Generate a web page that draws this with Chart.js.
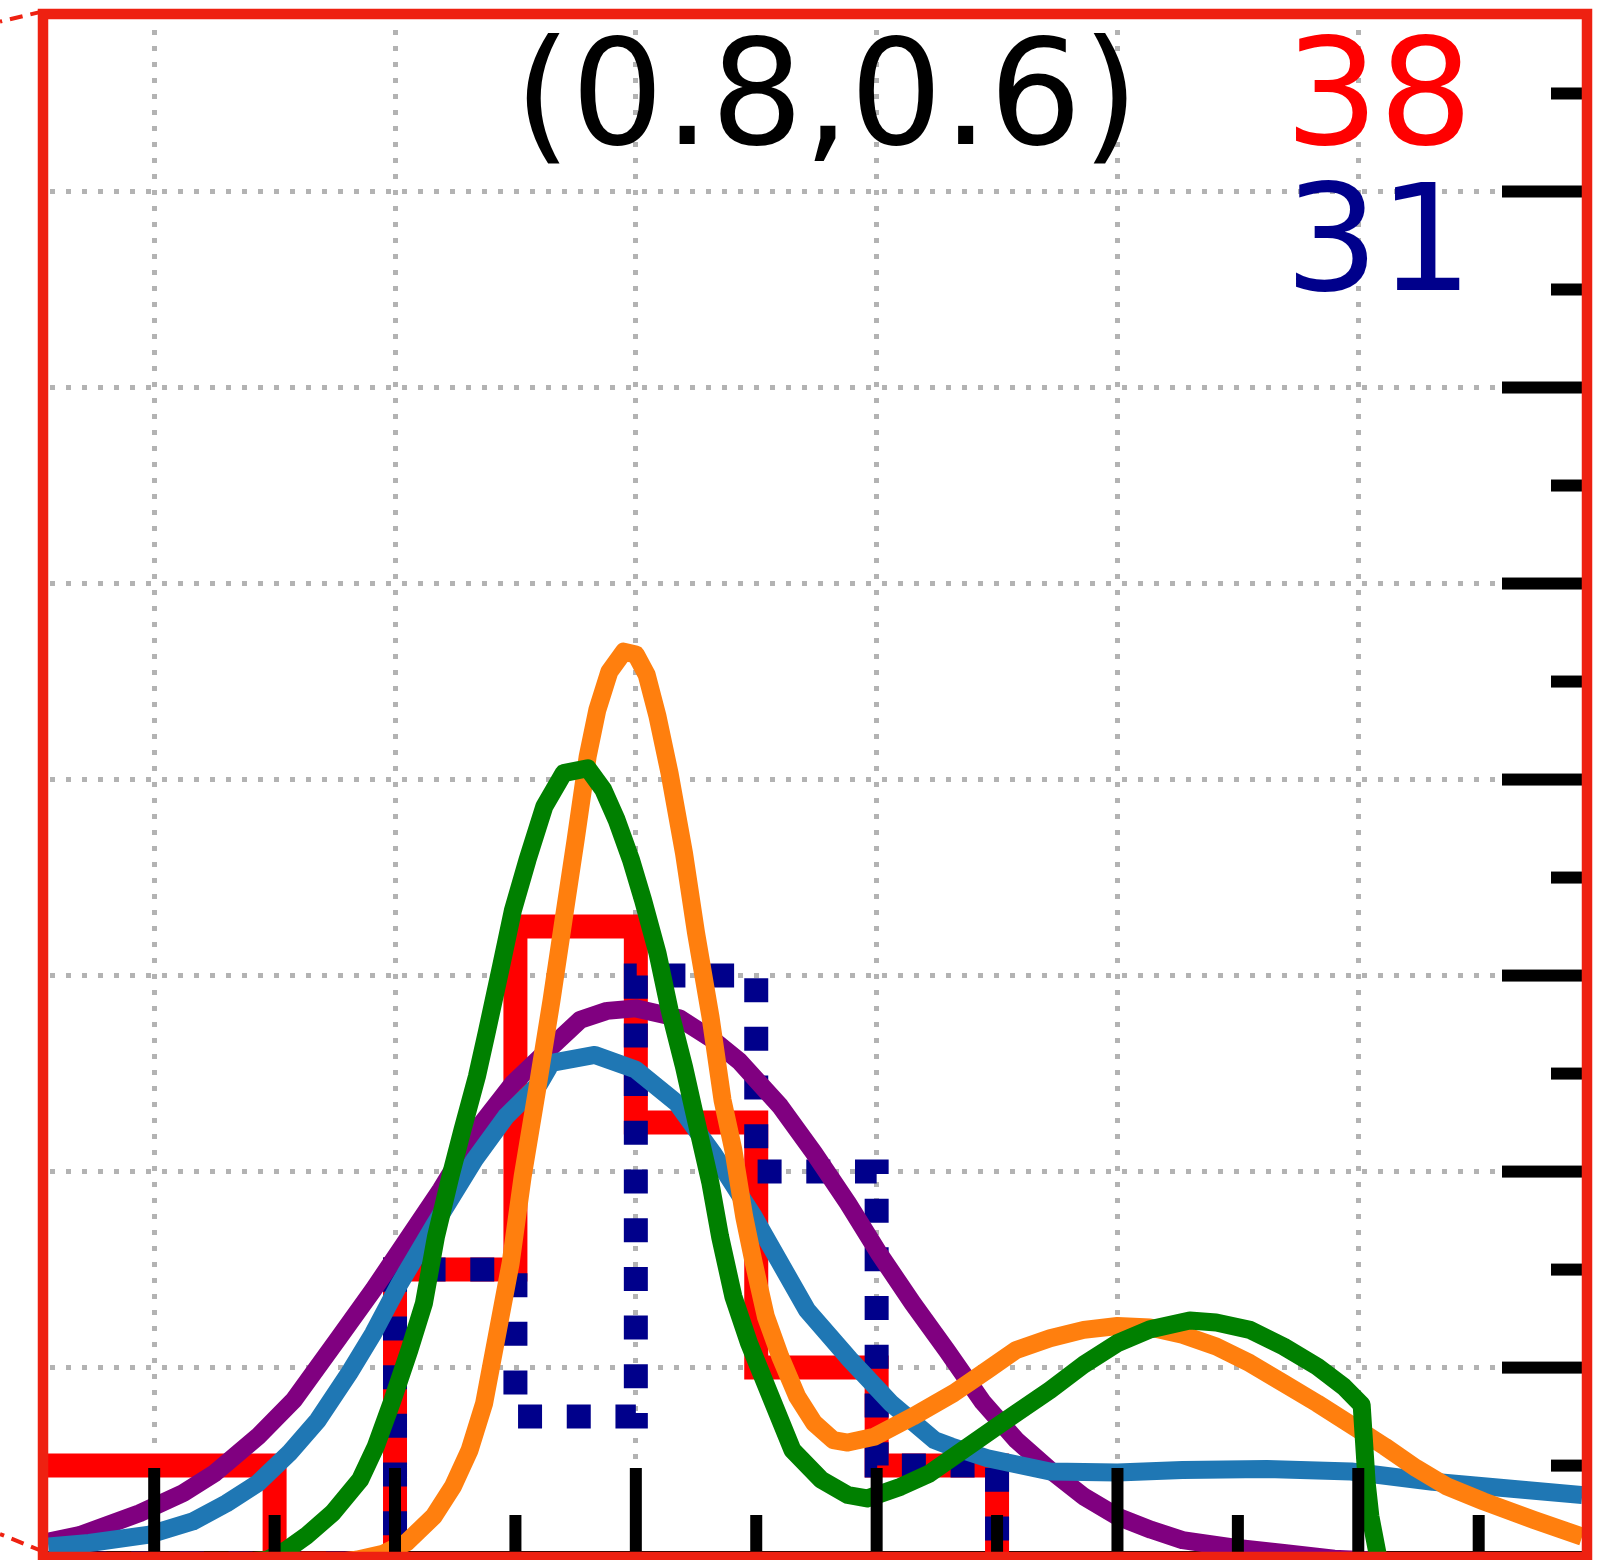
<!DOCTYPE html>
<html>
<head>
<meta charset="utf-8">
<script src="https://cdn.jsdelivr.net/npm/chart.js@4/dist/chart.umd.min.js"></script>
<style>
  html, body { margin: 0; padding: 0; background: #ffffff; overflow: hidden; }
  canvas { display: block; }
</style>
</head>
<body>
<canvas id="chart" width="1614" height="1560"></canvas>
<script>
// Histogram bins (shared edges) and counts per bin
const binEdges   = [-0.5, 0, 0.5, 1, 1.5, 2, 2.5, 3, 3.5];
const redCounts  = [2, 2, 0, 6, 13, 9, 4, 2];
const blueCounts = [0, 0, 0, 6, 3, 12, 8, 2];

// Panel heading
const panelTitle = '(0.8,0.6)';

// Axis ranges and tick positions
const xRange = [-0.441, 5.929];
const yRange = [0.237, 31.52];
const xMajorTicks = [0, 1, 2, 3, 4, 5];
const xMinorTicks = [0.5, 1.5, 2.5, 3.5, 4.5, 5.5];
const yMajorTicks = [4, 8, 12, 16, 20, 24, 28];
const yMinorTicks = [2, 6, 10, 14, 18, 22, 26, 30];

// Density curves, [x, y] pairs
const purpleCurve = [
  [-0.44, 0.45], [-0.31, 0.58], [-0.06, 1.03], [0.12, 1.44], [0.25, 1.84], [0.43, 2.59],
  [0.58, 3.34], [0.77, 4.63], [0.91, 5.59], [1.05, 6.61], [1.19, 7.63], [1.35, 8.92],
  [1.49, 9.80], [1.65, 10.55], [1.77, 11.1], [1.88, 11.28], [2.0, 11.33], [2.18, 11.13],
  [2.32, 10.69], [2.43, 10.25], [2.6, 9.33], [2.74, 8.38], [2.88, 7.36], [3.01, 6.33],
  [3.15, 5.31], [3.29, 4.36], [3.44, 3.3], [3.58, 2.52], [3.72, 1.91], [3.86, 1.37],
  [4.0, 0.96], [4.14, 0.69], [4.27, 0.48], [4.48, 0.33], [4.69, 0.22], [4.9, 0.1],
  [5.2, 0.03], [5.93, 0.0]
];
const blueCurve = [
  [-0.44, 0.35], [-0.27, 0.42], [-0.02, 0.59], [0.16, 0.86], [0.30, 1.23], [0.43, 1.64],
  [0.56, 2.25], [0.68, 2.93], [0.81, 3.89], [0.91, 4.70], [1.02, 5.72], [1.16, 6.88],
  [1.33, 8.24], [1.46, 9.12], [1.60, 9.80], [1.65, 10.22], [1.83, 10.38], [2.0, 10.08],
  [2.17, 9.40], [2.32, 8.38], [2.49, 7.08], [2.71, 5.18], [2.89, 4.16], [3.06, 3.27],
  [3.24, 2.52], [3.31, 2.39], [3.46, 2.15], [3.72, 1.88], [4.0, 1.86], [4.27, 1.91],
  [4.62, 1.93], [4.97, 1.88], [5.31, 1.67], [5.52, 1.58], [5.93, 1.40]
];
const orangeCurve = [
  [-0.44, 0.0], [0.5, 0.0], [0.7, 0.0], [0.84, 0.08], [0.95, 0.2], [1.05, 0.44],
  [1.16, 0.96], [1.24, 1.57], [1.31, 2.32], [1.37, 3.27], [1.42, 4.57], [1.48, 6.13],
  [1.53, 7.90], [1.59, 9.67], [1.65, 11.5], [1.70, 13.14], [1.75, 14.77], [1.80, 16.47],
  [1.84, 17.42], [1.89, 18.2], [1.95, 18.61], [2.0, 18.55], [2.045, 18.14], [2.09, 17.29],
  [2.14, 16.13], [2.20, 14.5], [2.25, 12.87], [2.31, 11.16], [2.36, 9.46], [2.405, 8.44],
  [2.45, 7.08], [2.49, 6.13], [2.54, 5.04], [2.60, 4.22], [2.67, 3.41], [2.74, 2.87],
  [2.82, 2.52], [2.88, 2.47], [2.99, 2.59], [3.15, 3.0], [3.32, 3.48], [3.46, 3.95],
  [3.58, 4.36], [3.72, 4.6], [3.86, 4.77], [4.0, 4.85], [4.135, 4.82], [4.27, 4.67],
  [4.41, 4.43], [4.55, 4.09], [4.69, 3.68], [4.83, 3.27], [4.97, 2.83], [5.11, 2.39],
  [5.24, 1.95], [5.37, 1.57], [5.52, 1.27], [5.73, 0.89], [5.93, 0.55]
];
const greenCurve = [
  [-0.44, 0.0], [0.3, 0.0], [0.47, 0.08], [0.55, 0.28], [0.63, 0.56], [0.74, 1.03], [0.855, 1.71],
  [0.92, 2.39], [0.99, 3.34], [1.06, 4.36], [1.12, 5.31], [1.17, 6.67], [1.23, 7.9],
  [1.28, 8.85], [1.34, 9.94], [1.38, 10.82], [1.44, 12.18], [1.49, 13.34], [1.55, 14.36],
  [1.62, 15.45], [1.70, 16.13], [1.80, 16.23], [1.865, 15.79], [1.92, 15.18], [1.98, 14.36],
  [2.03, 13.54], [2.09, 12.46], [2.14, 11.3], [2.20, 10.14], [2.24, 9.26], [2.31, 7.76],
  [2.35, 6.67], [2.405, 5.45], [2.47, 4.5], [2.56, 3.41], [2.65, 2.32], [2.77, 1.71],
  [2.88, 1.4], [2.96, 1.33], [3.10, 1.57], [3.22, 1.84], [3.36, 2.32], [3.50, 2.8],
  [3.58, 3.07], [3.72, 3.54], [3.86, 4.06], [4.0, 4.5], [4.135, 4.78], [4.30, 4.96],
  [4.41, 4.92], [4.55, 4.77], [4.69, 4.43], [4.83, 4.02], [4.94, 3.61], [5.014, 3.24],
  [5.035, 1.64], [5.05, 0.97], [5.08, 0.2], [5.1, 0.0], [5.93, 0.0]
];

// Outline of a step histogram: up the first edge, across each bin, down the last edge
function stepOutline(edges, counts) {
  const pts = [{ x: edges[0], y: 0 }];
  counts.forEach((c, i) => {
    pts.push({ x: edges[i], y: c });
    pts.push({ x: edges[i + 1], y: c });
  });
  pts.push({ x: edges[edges.length - 1], y: 0 });
  return pts;
}
const toPoints = arr => arr.map(([x, y]) => ({ x, y }));
const sum = arr => arr.reduce((a, b) => a + b, 0);

const FRAME_RED = '#ee2111';
const FONT = '"DejaVu Sans", "Liberation Sans", sans-serif';

// Inward tick marks, connector lines, outer frame and annotations
const decorPlugin = {
  id: 'decor',
  afterDatasetsDraw(chart) {
    const { ctx, chartArea: a, scales: { x, y } } = chart;
    ctx.save();

    ctx.fillStyle = '#000000';
    xMajorTicks.forEach(v => {
      const px = x.getPixelForValue(v);
      ctx.fillRect(px - 6, a.bottom - 84, 12, 84);
    });
    xMinorTicks.forEach(v => {
      const px = x.getPixelForValue(v);
      ctx.fillRect(px - 6, a.bottom - 37, 12, 37);
    });
    yMajorTicks.forEach(v => {
      const py = y.getPixelForValue(v);
      ctx.fillRect(a.right - 80, py - 6, 80, 12);
    });
    yMinorTicks.forEach(v => {
      const py = y.getPixelForValue(v);
      ctx.fillRect(a.right - 31, py - 6, 31, 12);
    });

    // dashed connectors leaving the frame to the left
    ctx.strokeStyle = FRAME_RED;
    ctx.lineWidth = 4;
    ctx.setLineDash([13, 8]);
    ctx.beginPath();
    ctx.moveTo(a.left - 5, a.top - 7.6);
    ctx.lineTo(0, a.top + 2.6);
    ctx.moveTo(a.left - 5, a.bottom - 0.5);
    ctx.lineTo(0, a.bottom - 18);
    ctx.stroke();
    ctx.setLineDash([]);

    // frame around the panel
    ctx.lineWidth = 10.5;
    ctx.lineJoin = 'miter';
    ctx.strokeRect(a.left - 5, a.top - 5, (a.right - a.left) + 10, (a.bottom - a.top) + 10);

    // annotations
    ctx.textBaseline = 'alphabetic';
    ctx.fillStyle = '#000000';
    ctx.textAlign = 'center';
    ctx.font = '146px ' + FONT;
    ctx.fillText(panelTitle, a.left + 0.5075 * (a.right - a.left), a.top + 125);
    ctx.font = '148px ' + FONT;
    ctx.textAlign = 'right';
    ctx.fillStyle = '#ff0000';
    ctx.fillText(String(sum(redCounts)), a.right - 109, a.top + 125);
    ctx.fillStyle = '#00008b';
    ctx.fillText(String(sum(blueCounts)), a.right - 109, a.top + 271);

    ctx.restore();
  }
};

const curveStyle = (data, color, order) => ({
  data: toPoints(data),
  borderColor: color,
  borderWidth: 18,
  borderJoinStyle: 'round',
  borderCapStyle: 'butt',
  tension: 0,
  pointRadius: 0,
  fill: false,
  clip: 0,
  order
});

new Chart(document.getElementById('chart'), {
  type: 'line',
  data: {
    datasets: [
      {
        label: 'red histogram',
        data: stepOutline(binEdges, redCounts),
        borderColor: '#ff0000',
        borderWidth: 24,
        borderJoinStyle: 'miter',
        borderCapStyle: 'butt',
        tension: 0, pointRadius: 0, fill: false, clip: 0,
        order: 10
      },
      {
        label: 'blue histogram',
        data: stepOutline(binEdges, blueCounts),
        borderColor: '#00008b',
        borderWidth: 24,
        borderDash: [24, 24.7],
        borderJoinStyle: 'miter',
        borderCapStyle: 'butt',
        tension: 0, pointRadius: 0, fill: false, clip: 0,
        order: 9
      },
      curveStyle(purpleCurve, '#800080', 8),
      curveStyle(blueCurve, '#1f77b4', 7),
      curveStyle(orangeCurve, '#ff7f0e', 6),
      curveStyle(greenCurve, '#008000', 5)
    ]
  },
  options: {
    responsive: false,
    animation: false,
    devicePixelRatio: 1,
    layout: { padding: { left: 48, top: 19, right: 32, bottom: 8 } },
    plugins: { legend: { display: false }, tooltip: { enabled: false }, title: { display: false } },
    scales: {
      x: {
        type: 'linear',
        min: xRange[0], max: xRange[1],
        afterBuildTicks: s => {
          s.ticks = [...xMajorTicks, ...xMinorTicks].sort((p, q) => p - q).map(v => ({ value: v }));
        },
        ticks: { display: false },
        grid: {
          drawTicks: false,
          lineWidth: 5,
          color: c => (c.tick && xMajorTicks.includes(c.tick.value)) ? '#b3b3b3' : 'rgba(0,0,0,0)'
        },
        border: { display: true, color: '#000000', width: 2, dash: [5, 11], dashOffset: 5 }
      },
      y: {
        type: 'linear',
        position: 'right',
        min: yRange[0], max: yRange[1],
        afterBuildTicks: s => {
          s.ticks = [...yMajorTicks, ...yMinorTicks].sort((p, q) => p - q).map(v => ({ value: v }));
        },
        ticks: { display: false },
        grid: {
          drawTicks: false,
          lineWidth: 5,
          color: c => (c.tick && yMajorTicks.includes(c.tick.value)) ? '#b3b3b3' : 'rgba(0,0,0,0)'
        },
        border: { display: false, dash: [5, 11], dashOffset: 14 }
      }
    }
  },
  plugins: [decorPlugin]
});
</script>
</body>
</html>
